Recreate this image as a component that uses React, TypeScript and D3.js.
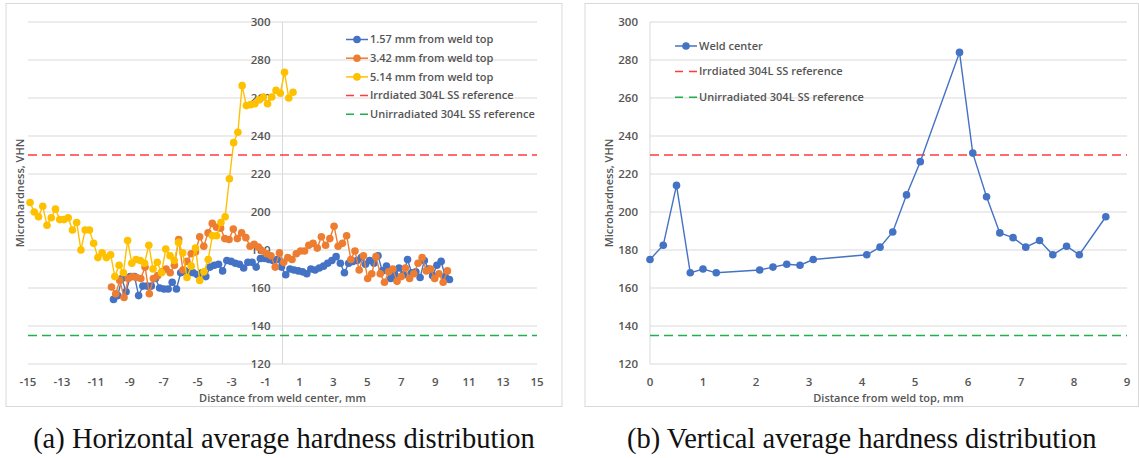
import React from 'react';
import { scaleLinear, line } from 'd3';

// ---- data ----
// (a) horizontal distribution, [distance from weld center (mm), VHN]
const series157: [number, number][] = [
  [-9.96, 154], [-9.71, 156], [-9.47, 165], [-9.22, 158], [-8.97, 166], [-8.72, 166], [-8.48, 156], [-8.23, 161],
  [-7.98, 161], [-7.73, 161], [-7.49, 165], [-7.24, 160], [-6.99, 159.5], [-6.74, 159.5], [-6.5, 163], [-6.25, 159.5],
  [-6.0, 168], [-5.75, 169], [-5.51, 168], [-5.26, 168], [-5.01, 167], [-4.76, 168], [-4.52, 166], [-4.27, 171],
  [-4.02, 172], [-3.77, 172.5], [-3.53, 169], [-3.28, 174.5], [-3.03, 174], [-2.78, 173], [-2.54, 172.5], [-2.29, 170.5],
  [-2.04, 173.5], [-1.79, 173.5], [-1.55, 171], [-1.3, 175.5], [-1.05, 175.5], [-0.8, 175], [-0.56, 174.5], [-0.31, 175],
  [-0.06, 171], [0.19, 167], [0.44, 170], [0.68, 169.5], [0.93, 169], [1.18, 168.5], [1.43, 167.5], [1.67, 170],
  [1.92, 169.5], [2.17, 170.5], [2.42, 171.5], [2.66, 173], [2.91, 174.5], [3.16, 176.5], [3.41, 173], [3.65, 168],
  [3.9, 173], [4.15, 174], [4.4, 174.5], [4.64, 176], [4.89, 172.5], [5.14, 174.5], [5.39, 173], [5.63, 177],
  [5.88, 169], [6.13, 171.5], [6.38, 165], [6.62, 167], [6.87, 170.5], [7.12, 167], [7.37, 175], [7.61, 168],
  [7.86, 168.5], [8.11, 165.5], [8.36, 174.5], [8.6, 170], [8.85, 166.5], [9.1, 172], [9.35, 174], [9.59, 166],
  [9.84, 164.5],
];

const series342: [number, number][] = [
  [-10.08, 160.5], [-9.83, 157], [-9.59, 164], [-9.34, 155], [-9.09, 165], [-8.84, 166], [-8.6, 165.5], [-8.35, 165],
  [-8.1, 171], [-7.85, 157], [-7.61, 165], [-7.36, 166.5], [-7.11, 168.5], [-6.86, 170], [-6.62, 168], [-6.37, 172],
  [-6.12, 185.5], [-5.87, 169.5], [-5.63, 174], [-5.38, 178], [-5.13, 179], [-4.88, 187], [-4.64, 182], [-4.39, 189],
  [-4.14, 194], [-3.89, 192], [-3.65, 191.5], [-3.4, 186], [-3.15, 185.5], [-2.9, 191], [-2.66, 186], [-2.41, 189],
  [-2.16, 186.5], [-1.91, 182], [-1.67, 183], [-1.42, 181.5], [-1.17, 179.5], [-0.92, 178], [-0.68, 177], [-0.43, 171],
  [-0.18, 178.5], [0.07, 173.5], [0.31, 176], [0.56, 175], [0.81, 178], [1.06, 179.5], [1.3, 179.5], [1.55, 182.5],
  [1.8, 183.5], [2.05, 181], [2.29, 187], [2.54, 182.5], [2.79, 186], [3.04, 192.5], [3.28, 182], [3.53, 183.5],
  [3.78, 187.5], [4.03, 175], [4.27, 179.5], [4.52, 169.5], [4.77, 177], [5.02, 165], [5.26, 167.5], [5.51, 176.5],
  [5.76, 167.5], [6.01, 163], [6.25, 168.5], [6.5, 170], [6.75, 163.5], [7.0, 166], [7.24, 170.5], [7.49, 165],
  [7.74, 167.5], [7.99, 173], [8.23, 176], [8.48, 169], [8.73, 170], [8.97, 165], [9.22, 167.5], [9.47, 163],
  [9.72, 169],
];

const series514: [number, number][] = [
  [-14.88, 205], [-14.63, 200], [-14.38, 197.5], [-14.13, 203], [-13.88, 193], [-13.63, 197], [-13.38, 201.5], [-13.13, 196],
  [-12.88, 196], [-12.63, 197], [-12.38, 190.5], [-12.13, 194.5], [-11.88, 180], [-11.63, 190.5], [-11.38, 190.5], [-11.13, 183.5],
  [-10.88, 176], [-10.63, 178.5], [-10.38, 176], [-10.13, 177.5], [-9.88, 166], [-9.63, 172], [-9.38, 168], [-9.13, 185],
  [-8.88, 173], [-8.63, 175], [-8.38, 174.5], [-8.13, 173], [-7.88, 182.5], [-7.63, 170], [-7.38, 173.5], [-7.13, 168],
  [-6.88, 180.5], [-6.63, 177], [-6.38, 174.5], [-6.13, 184], [-5.88, 178.5], [-5.63, 165.5], [-5.38, 171.5], [-5.13, 181],
  [-4.88, 164], [-4.63, 168.5], [-4.38, 175], [-4.13, 187.5], [-3.88, 187.5], [-3.63, 194.5], [-3.38, 197.5], [-3.13, 217.5],
  [-2.88, 236.5], [-2.63, 242], [-2.38, 266.5], [-2.13, 256], [-1.88, 256.5], [-1.63, 257], [-1.38, 259], [-1.13, 260.5],
  [-0.88, 257], [-0.63, 260.5], [-0.38, 264], [-0.13, 262.5], [0.12, 273.5], [0.37, 260], [0.62, 263],
];

// (b) vertical distribution, [distance from weld top (mm), VHN]
const weldCenter: [number, number][] = [
  [0, 175], [0.25, 182.5], [0.5, 214], [0.76, 168], [1.0, 170], [1.25, 168], [2.07, 169.5], [2.32, 171],
  [2.58, 172.5], [2.83, 172], [3.08, 175], [4.09, 177.5], [4.34, 181.5], [4.58, 189.5], [4.84, 209], [5.1, 226.5],
  [5.84, 284], [6.09, 231], [6.35, 208], [6.6, 189], [6.85, 186.5], [7.09, 181.5], [7.35, 185], [7.6, 177.5],
  [7.86, 182], [8.1, 177.5], [8.6, 197.5],
];

const irradiatedRef = 230;
const unirradiatedRef = 135;

const yTicks = [120, 140, 160, 180, 200, 220, 240, 260, 280, 300];
const xTicksA = [-15, -13, -11, -9, -7, -5, -3, -1, 1, 3, 5, 7, 9, 11, 13, 15];
const xTicksB = [0, 1, 2, 3, 4, 5, 6, 7, 8, 9];

const BLUE = '#4472C4';
const ORANGE = '#ED7D31';
const YELLOW = '#FFC000';
const RED = '#FF3B3B';
const GREEN = '#1FAF4B';
const TEXT = '#555555';
const GRID = '#d9d9d9';
const FONT = '"Open Sans", "Liberation Sans", sans-serif';
const R = 3.8;

const yScale = scaleLinear().domain([120, 300]).range([364, 22]);

type Item = { label: string; color: string; dashed?: boolean };

function Legend({ x, y, gap, items }: { x: number; y: number; gap: number; items: Item[] }) {
  return (
    <g>
      {items.map((it, i) => {
        const cy = y + i * gap;
        return (
          <g key={it.label}>
            {it.dashed ? (
              <line x1={x} x2={x + 22} y1={cy} y2={cy} stroke={it.color} strokeWidth={1.5} strokeDasharray="8 6" />
            ) : (
              <g>
                <line x1={x} x2={x + 22} y1={cy} y2={cy} stroke={it.color} strokeWidth={1.5} />
                <circle cx={x + 11} cy={cy} r={R} fill={it.color} />
              </g>
            )}
            <text x={x + 24} y={cy} dy="0.35em" fontSize={11} fontWeight={600} fill={TEXT} fontFamily={FONT}>
              {it.label}
            </text>
          </g>
        );
      })}
    </g>
  );
}

function Panel({
  x0, x1, box, labelX, domain, xTicks, axisAt, xTitle, caption, series, legend,
}: {
  x0: number; x1: number; box: [number, number]; labelX: number;
  domain: [number, number]; xTicks: number[]; axisAt: number;
  xTitle: string; caption: string;
  series: { data: [number, number][]; color: string }[];
  legend: React.ReactNode;
}) {
  const xScale = scaleLinear().domain(domain).range([x0, x1]);
  const path = line<[number, number]>().x(d => xScale(d[0])).y(d => yScale(d[1]));
  const ax = xScale(axisAt);
  const mid = (box[0] + box[1]) / 2;
  return (
    <g>
      <rect x={box[0]} y={3.5} width={box[1] - box[0]} height={403} fill="#fff" stroke={GRID} strokeWidth={1} />
      {yTicks.map(t => (
        <line key={t} x1={x0} x2={x1} y1={yScale(t)} y2={yScale(t)} stroke={GRID} strokeWidth={1} />
      ))}
      <line x1={ax} x2={ax} y1={yScale(300)} y2={yScale(120)} stroke={GRID} strokeWidth={1} />
      {yTicks.map(t => (
        <text key={t} x={ax - 12} y={yScale(t)} dy="0.35em" textAnchor="end" fontSize={11.5} fontWeight={600}
          fill={TEXT} fontFamily={FONT}>{t}</text>
      ))}
      {xTicks.map(t => (
        <text key={t} x={xScale(t)} y={382} dy="0.35em" textAnchor="middle" fontSize={11.5} fontWeight={600}
          fill={TEXT} fontFamily={FONT}>{t}</text>
      ))}
      <text x={(x0 + x1) / 2} y={398} dy="0.35em" textAnchor="middle" fontSize={11} fontWeight={600}
        fill={TEXT} fontFamily={FONT}>{xTitle}</text>
      <text transform={`translate(${labelX},193) rotate(-90)`} dy="0.35em" textAnchor="middle" fontSize={11}
        fontWeight={600} fill={TEXT} fontFamily={FONT}>Microhardness, VHN</text>
      <line x1={x0} x2={x1} y1={yScale(irradiatedRef)} y2={yScale(irradiatedRef)} stroke={RED} strokeWidth={1.5}
        strokeDasharray="9 5" />
      <line x1={x0} x2={x1} y1={yScale(unirradiatedRef)} y2={yScale(unirradiatedRef)} stroke={GREEN} strokeWidth={1.5}
        strokeDasharray="9 5" />
      {series.map(s => (
        <g key={s.color}>
          <path d={path(s.data) ?? ''} fill="none" stroke={s.color} strokeWidth={1.4} />
          {s.data.map((d, i) => (
            <circle key={i} cx={xScale(d[0])} cy={yScale(d[1])} r={R} fill={s.color} />
          ))}
        </g>
      ))}
      {legend}
      <text x={mid} y={448} textAnchor="middle" fontSize={28.5} fill="#111" fontFamily='"Liberation Serif", serif'>
        {caption}
      </text>
    </g>
  );
}

export default function App() {
  return (
    <svg width={1139} height={458} style={{ position: 'absolute', left: 0, top: 0, background: '#fff' }}>
      <Panel
        x0={28} x1={537} box={[6, 562]} labelX={20} domain={[-15, 15]} xTicks={xTicksA} axisAt={0}
        xTitle="Distance from weld center, mm"
        caption="(a) Horizontal average hardness distribution"
        series={[
          { data: series157, color: BLUE },
          { data: series342, color: ORANGE },
          { data: series514, color: YELLOW },
        ]}
        legend={
          <Legend x={346} y={39.5} gap={18.7} items={[
            { label: '1.57 mm from weld top', color: BLUE },
            { label: '3.42 mm from weld top', color: ORANGE },
            { label: '5.14 mm from weld top', color: YELLOW },
            { label: 'Irrdiated 304L SS reference', color: RED, dashed: true },
            { label: 'Unirradiated 304L SS reference', color: GREEN, dashed: true },
          ]} />
        }
      />
      <Panel
        x0={650} x1={1127} box={[585, 1138.5]} labelX={609} domain={[0, 9]} xTicks={xTicksB} axisAt={0}
        xTitle="Distance from weld top, mm"
        caption="(b) Vertical average hardness distribution"
        series={[{ data: weldCenter, color: BLUE }]}
        legend={
          <Legend x={675} y={46} gap={25.6} items={[
            { label: 'Weld center', color: BLUE },
            { label: 'Irrdiated 304L SS reference', color: RED, dashed: true },
            { label: 'Unirradiated 304L SS reference', color: GREEN, dashed: true },
          ]} />
        }
      />
    </svg>
  );
}
